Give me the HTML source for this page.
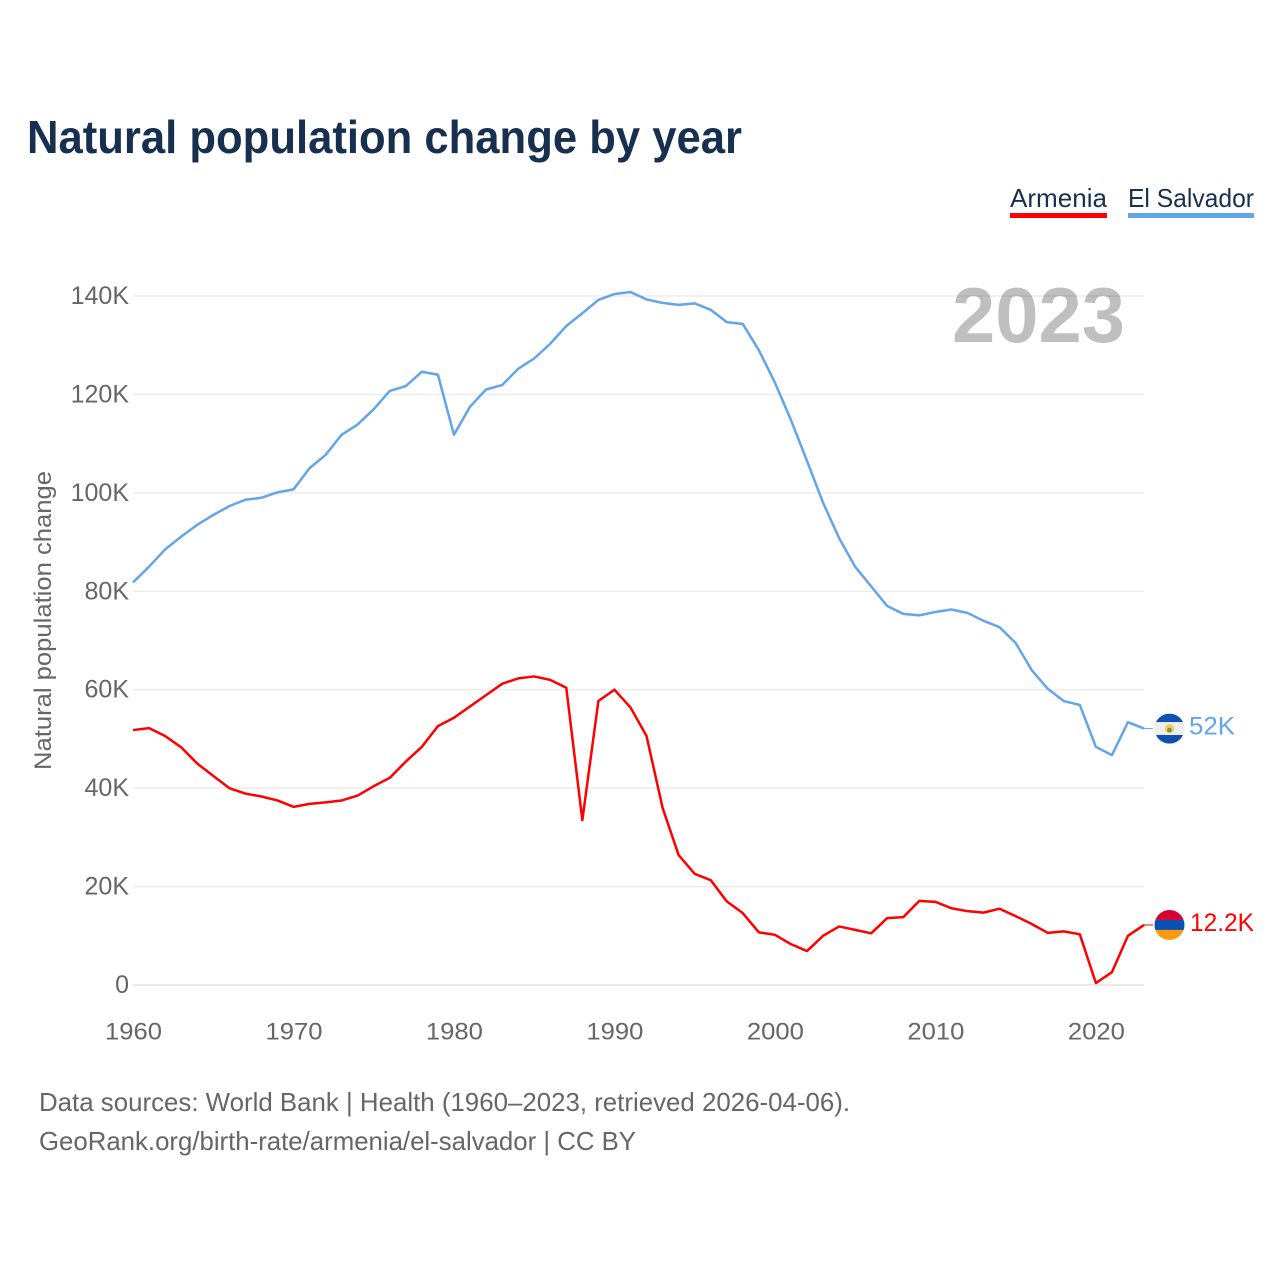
<!DOCTYPE html>
<html lang="en">
<head>
<meta charset="utf-8">
<title>Natural population change by year</title>
<style>
html,body{margin:0;padding:0;background:#fff;width:1280px;height:1280px;overflow:hidden}
svg{display:block;font-family:"Liberation Sans",sans-serif}
</style>
</head>
<body>
<svg id="chart" xmlns="http://www.w3.org/2000/svg" width="1280" height="1280" viewBox="0 0 1280 1280">
  <rect x="0" y="0" width="1280" height="1280" fill="#fff"/>
  <text x="27" y="153" font-size="46" font-weight="700" fill="#18304f" textLength="715" lengthAdjust="spacingAndGlyphs">Natural population change by year</text>

  <g>
    <text x="1010" y="207" font-size="26" fill="#18304f" textLength="97" lengthAdjust="spacingAndGlyphs">Armenia</text>
    <rect x="1010" y="213" width="97" height="5" fill="#ff0000"/>
  </g>
  <g>
    <text x="1128" y="207" font-size="26" fill="#18304f" textLength="126" lengthAdjust="spacingAndGlyphs">El Salvador</text>
    <rect x="1128" y="213" width="126" height="5" fill="#62a5ea"/>
  </g>

  <g id="grid"></g>
  <g id="yticks"></g>
  <g id="xticks"></g>
  <text transform="translate(51,770) rotate(-90)" font-size="24" fill="#666" textLength="299" lengthAdjust="spacingAndGlyphs">Natural population change</text>
  <text x="952" y="342" font-size="78" font-weight="700" fill="#000" fill-opacity="0.25" textLength="173" lengthAdjust="spacingAndGlyphs">2023</text>

  <polyline id="line-elsalvador" fill="none" stroke="#62a5ea" stroke-width="2.5" stroke-linejoin="round"/>
  <polyline id="line-armenia" fill="none" stroke="#ff0000" stroke-width="2.5" stroke-linejoin="round"/>

  <line id="conn-elsalvador" stroke="#62a5ea" stroke-width="1"/>
  <line id="conn-armenia" stroke="#ff0000" stroke-width="1"/>

  <clipPath id="clip-sv"><circle id="clip-sv-c" cx="1169.5" r="15"/></clipPath>
  <clipPath id="clip-am"><circle id="clip-am-c" cx="1169.5" r="15"/></clipPath>

  <g id="flag-sv" clip-path="url(#clip-sv)">
    <rect x="1154" y="-15" width="31" height="8.6" fill="#0f51b0"/>
    <rect x="1154" y="-6.4" width="31" height="12.8" fill="#eeeeee"/>
    <rect x="1154" y="6.4" width="31" height="8.6" fill="#0f51b0"/>
    <circle cx="1169.5" cy="0" r="4.6" fill="#f2cd5c"/>
    <circle cx="1169.5" cy="1.5" r="2.4" fill="#7f9a3e"/>
  </g>
  <g id="flag-am" clip-path="url(#clip-am)">
    <rect x="1154" y="-15" width="31" height="10" fill="#d80030"/>
    <rect x="1154" y="-5" width="31" height="10" fill="#0a50b4"/>
    <rect x="1154" y="5" width="31" height="10" fill="#ff9a0f"/>
  </g>
  <text id="value-sv" x="1189" font-size="25" fill="#62a5ea" textLength="46" lengthAdjust="spacingAndGlyphs"></text>
  <text id="value-am" x="1190" font-size="25" fill="#ff0000" textLength="64" lengthAdjust="spacingAndGlyphs"></text>

  <text x="39" y="1111" font-size="26" fill="#666" textLength="811" lengthAdjust="spacingAndGlyphs">Data sources: World Bank | Health (1960–2023, retrieved 2026-04-06).</text>
  <text x="39" y="1150" font-size="26" fill="#666" textLength="597" lengthAdjust="spacingAndGlyphs">GeoRank.org/birth-rate/armenia/el-salvador | CC BY</text>
</svg>
<script>
const startYear = 1960;
const yTickValues = [0, 20, 40, 60, 80, 100, 120, 140];
const yTickLabels = ["0", "20K", "40K", "60K", "80K", "100K", "120K", "140K"];
const xTickValues = [1960, 1970, 1980, 1990, 2000, 2010, 2020];
const xTickLabels = ["1960", "1970", "1980", "1990", "2000", "2010", "2020"];
const elSalvadorValues = [81.8,85.0,88.5,91.1,93.5,95.5,97.3,98.6,99.0,100.1,100.7,105.0,107.7,111.8,113.9,117.0,120.7,121.7,124.6,124.0,111.8,117.5,121.0,121.9,125.2,127.3,130.3,133.9,136.5,139.2,140.4,140.8,139.3,138.6,138.2,138.5,137.2,134.7,134.3,129.0,122.4,114.8,106.5,98.0,90.8,85.0,81.0,77.0,75.4,75.1,75.8,76.3,75.6,74.0,72.7,69.5,64.0,60.2,57.7,56.9,48.4,46.7,53.4,52.1];
const armeniaValues = [51.8,52.2,50.6,48.3,45.0,42.5,40.0,38.9,38.3,37.5,36.2,36.8,37.1,37.5,38.5,40.4,42.1,45.4,48.4,52.6,54.3,56.6,58.9,61.2,62.3,62.7,62.0,60.4,33.5,57.7,60.0,56.4,50.6,36.0,26.4,22.6,21.3,17.0,14.6,10.7,10.2,8.3,6.9,10.0,11.9,11.2,10.5,13.6,13.8,17.1,16.9,15.6,15.0,14.7,15.5,14.0,12.4,10.6,10.9,10.3,0.4,2.6,10.0,12.2];
const elSalvadorEndLabel = "52K";
const armeniaEndLabel = "12.2K";

const NS = "http://www.w3.org/2000/svg";
function xScale(year) { return 133 + (year - 1960) * (1144 - 133) / 63; }
function yScale(v) { return 985 - v * (985 - 296) / 140; }

const grid = document.getElementById("grid");
const yticks = document.getElementById("yticks");
const xticks = document.getElementById("xticks");

yTickValues.forEach(function (v, i) {
  const l = document.createElementNS(NS, "line");
  
  
  l.setAttribute("x1", 133);
  l.setAttribute("x2", 1144);
  l.setAttribute("y1", yScale(v));
  l.setAttribute("y2", yScale(v));
  l.setAttribute("stroke", v === 0 ? "#e4e4e4" : "#ececec");
  l.setAttribute("stroke-width", "1.5");
  grid.appendChild(l);

  const t = document.createElementNS(NS, "text");
  
  
  t.setAttribute("x", 129);
  t.setAttribute("y", yScale(v) + 8);
  t.setAttribute("text-anchor", "end");
  t.setAttribute("font-size", "25");
  t.setAttribute("fill", "#666");
  t.textContent = yTickLabels[i];
  yticks.appendChild(t);
});

xTickValues.forEach(function (year, i) {
  const t = document.createElementNS(NS, "text");
  
  
  t.setAttribute("x", xScale(year) + 0.5);
  t.setAttribute("y", 1039.5);
  t.setAttribute("text-anchor", "middle");
  t.setAttribute("font-size", "24");
  t.setAttribute("fill", "#666");
  t.setAttribute("textLength", "57");
  t.setAttribute("lengthAdjust", "spacingAndGlyphs");
  t.textContent = xTickLabels[i];
  xticks.appendChild(t);
});

function toPoints(values) {
  return values.map(function (v, i) {
    return xScale(startYear + i).toFixed(2) + "," + yScale(v).toFixed(2);
  }).join(" ");
}
document.getElementById("line-elsalvador").setAttribute("points", toPoints(elSalvadorValues));
document.getElementById("line-armenia").setAttribute("points", toPoints(armeniaValues));

function placeEnd(values, connId, clipId, flagId, valueId, label) {
  const last = values[values.length - 1];
  const y = yScale(last);
  const c = document.getElementById(connId);
  c.setAttribute("x1", xScale(startYear + values.length - 1));
  c.setAttribute("x2", 1153);
  c.setAttribute("y1", y);
  c.setAttribute("y2", y);
  document.getElementById(clipId).setAttribute("cy", y);
  const flag = document.getElementById(flagId);
  flag.querySelectorAll("rect").forEach(function (r) {
    r.setAttribute("y", parseFloat(r.getAttribute("y")) + y);
  });
  flag.querySelectorAll("circle").forEach(function (r) {
    r.setAttribute("cy", parseFloat(r.getAttribute("cy")) + y);
  });
  const t = document.getElementById(valueId);
  t.setAttribute("y", y + 6);
  t.textContent = label;
}
placeEnd(elSalvadorValues, "conn-elsalvador", "clip-sv-c", "flag-sv", "value-sv", elSalvadorEndLabel);
placeEnd(armeniaValues, "conn-armenia", "clip-am-c", "flag-am", "value-am", armeniaEndLabel);
</script>
</body>
</html>
